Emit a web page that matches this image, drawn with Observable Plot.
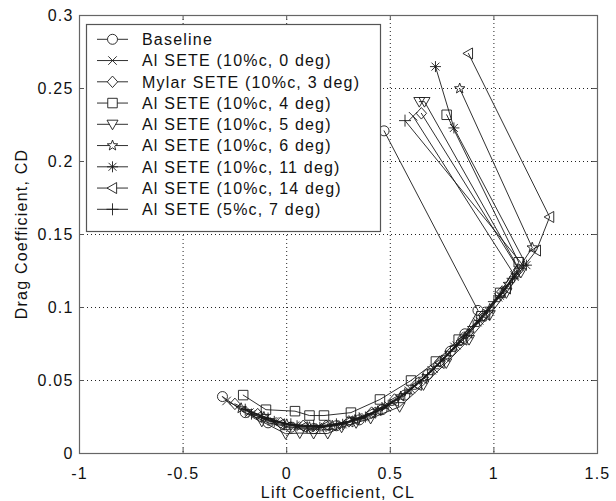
<!DOCTYPE html>
<html>
<head>
<meta charset="utf-8">
<script src="https://cdn.jsdelivr.net/npm/d3@7"></script>
<script src="https://cdn.jsdelivr.net/npm/@observablehq/plot@0.6"></script>
<style>
  html, body { margin: 0; padding: 0; background: #fff; }
  #chart { width: 616px; height: 501px; }
</style>
</head>
<body>
<div id="chart"></div>
<script>
// ---- tick values and labels ----
const xTicks = [-1, -0.5, 0, 0.5, 1, 1.5];
const xTickLabels = ["-1", "-0.5", "0", "0.5", "1", "1.5"];
const yTicks = [0, 0.05, 0.1, 0.15, 0.2, 0.25, 0.3];
const yTickLabels = ["0", "0.05", "0.1", "0.15", "0.2", "0.25", "0.3"];
const xTitle = "Lift Coefficient, CL";
const yTitle = "Drag Coefficient, CD";

// ---- series names ----
const seriesNames = [
  "Baseline",
  "Al SETE (10%c, 0 deg)",
  "Mylar SETE (10%c, 3 deg)",
  "Al SETE (10%c, 4 deg)",
  "Al SETE (10%c, 5 deg)",
  "Al SETE (10%c, 6 deg)",
  "Al SETE (10%c, 11 deg)",
  "Al SETE (10%c, 14 deg)",
  "Al SETE (5%c, 7 deg)"
];

// ---- data (CL, CD) ----
const clBaseline = [-0.31, -0.2, -0.09, 0.02, 0.13, 0.24, 0.35, 0.46, 0.57, 0.68, 0.79, 0.86, 0.923, 0.47];
const cdBaseline = [0.039, 0.028, 0.021, 0.018, 0.017, 0.019, 0.023, 0.030, 0.040, 0.054, 0.070, 0.082, 0.098, 0.221];

const clAl0 = [-0.29, -0.18, -0.07, 0.04, 0.15, 0.26, 0.37, 0.48, 0.59, 0.70, 0.81, 0.92, 1.02, 1.10, 0.61];
const cdAl0 = [0.036, 0.028, 0.022, 0.019, 0.018, 0.020, 0.025, 0.032, 0.043, 0.057, 0.073, 0.090, 0.107, 0.122, 0.231];

const clMylar3 = [-0.25, -0.14, -0.03, 0.08, 0.19, 0.30, 0.41, 0.52, 0.63, 0.74, 0.85, 0.95, 1.04, 1.12, 0.65];
const cdMylar3 = [0.034, 0.027, 0.021, 0.019, 0.019, 0.022, 0.028, 0.037, 0.048, 0.063, 0.079, 0.095, 0.111, 0.126, 0.233];

const clAl4 = [-0.21, -0.10, 0.04, 0.11, 0.18, 0.31, 0.45, 0.60, 0.72, 0.83, 0.94, 1.03, 1.12, 0.772];
const cdAl4 = [0.040, 0.030, 0.029, 0.026, 0.026, 0.028, 0.037, 0.050, 0.063, 0.078, 0.094, 0.110, 0.131, 0.232];

const clAl5 = [-0.12, -0.005, 0.063, 0.13, 0.198, 0.265, 0.335, 0.405, 0.545, 0.66, 0.77, 0.88, 0.98, 1.06, 1.13, 0.665, 0.64];
const cdAl5 = [0.022, 0.0135, 0.014, 0.0137, 0.0137, 0.018, 0.021, 0.024, 0.032, 0.047, 0.062, 0.078, 0.095, 0.110, 0.124, 0.241, 0.241];

const clAl6 = [-0.22, -0.11, 0.0, 0.11, 0.22, 0.33, 0.44, 0.55, 0.66, 0.77, 0.88, 0.98, 1.07, 1.185, 0.835];
const cdAl6 = [0.031, 0.025, 0.020, 0.018, 0.019, 0.023, 0.029, 0.039, 0.051, 0.066, 0.082, 0.099, 0.116, 0.141, 0.250];

const clAl11 = [-0.17, -0.06, 0.05, 0.16, 0.27, 0.38, 0.49, 0.60, 0.71, 0.82, 0.93, 1.03, 1.10, 1.157, 0.807, 0.718];
const cdAl11 = [0.027, 0.022, 0.019, 0.018, 0.020, 0.025, 0.033, 0.044, 0.058, 0.074, 0.091, 0.108, 0.121, 0.129, 0.223, 0.265];

const clAl14 = [-0.14, -0.03, 0.08, 0.19, 0.30, 0.41, 0.52, 0.63, 0.74, 0.85, 0.96, 1.06, 1.205, 1.269, 0.877];
const cdAl14 = [0.025, 0.020, 0.018, 0.019, 0.022, 0.028, 0.036, 0.047, 0.062, 0.078, 0.095, 0.113, 0.139, 0.162, 0.274];

const clAl5c7 = [-0.20, -0.09, 0.02, 0.13, 0.24, 0.35, 0.46, 0.57, 0.68, 0.79, 0.90, 1.00, 1.09, 1.14, 0.571];
const cdAl5c7 = [0.030, 0.024, 0.020, 0.019, 0.020, 0.024, 0.031, 0.041, 0.054, 0.070, 0.087, 0.104, 0.120, 0.129, 0.228];

// ---- marker shapes (hollow, MATLAB style) ----
function rad(size) { return Math.sqrt(size / Math.PI); }
const symCircle = { draw(c, s) { const r = rad(s); c.moveTo(r, 0); c.arc(0, 0, r, 0, 2 * Math.PI); } };
const symTimes = { draw(c, s) { const r = rad(s) * 0.85; c.moveTo(-r, -r); c.lineTo(r, r); c.moveTo(-r, r); c.lineTo(r, -r); } };
const symDiamond = { draw(c, s) { const r = rad(s) * 1.15; c.moveTo(0, -r); c.lineTo(r * 0.9, 0); c.lineTo(0, r); c.lineTo(-r * 0.9, 0); c.closePath(); } };
const symSquare = { draw(c, s) { const r = rad(s) * 0.95; c.moveTo(-r, -r); c.lineTo(r, -r); c.lineTo(r, r); c.lineTo(-r, r); c.closePath(); } };
const symTriDown = { draw(c, s) { const r = rad(s) * 1.1; c.moveTo(-r, -r * 0.75); c.lineTo(r, -r * 0.75); c.lineTo(0, r); c.closePath(); } };
const symStar = { draw(c, s) {
  const R = rad(s) * 1.1, ri = R * 0.42;
  for (let i = 0; i < 10; i++) {
    const a = -Math.PI / 2 + i * Math.PI / 5, rr = i % 2 ? ri : R;
    const x = rr * Math.cos(a), y = rr * Math.sin(a);
    if (i === 0) c.moveTo(x, y); else c.lineTo(x, y);
  }
  c.closePath();
} };
const symAsterisk = { draw(c, s) {
  const r = rad(s) * 1.1, d = r * 0.72;
  c.moveTo(-r, 0); c.lineTo(r, 0); c.moveTo(0, -r); c.lineTo(0, r);
  c.moveTo(-d, -d); c.lineTo(d, d); c.moveTo(-d, d); c.lineTo(d, -d);
} };
const symTriLeft = { draw(c, s) { const r = rad(s) * 1.1; c.moveTo(-r, 0); c.lineTo(r * 0.75, -r); c.lineTo(r * 0.75, r); c.closePath(); } };
const symPlus = { draw(c, s) { const r = rad(s) * 1.2; c.moveTo(-r, 0); c.lineTo(r, 0); c.moveTo(0, -r); c.lineTo(0, r); } };

const series = [
  { cl: clBaseline, cd: cdBaseline, sym: symCircle },
  { cl: clAl0, cd: cdAl0, sym: symTimes },
  { cl: clMylar3, cd: cdMylar3, sym: symDiamond },
  { cl: clAl4, cd: cdAl4, sym: symSquare },
  { cl: clAl5, cd: cdAl5, sym: symTriDown },
  { cl: clAl6, cd: cdAl6, sym: symStar },
  { cl: clAl11, cd: cdAl11, sym: symAsterisk },
  { cl: clAl14, cd: cdAl14, sym: symTriLeft },
  { cl: clAl5c7, cd: cdAl5c7, sym: symPlus }
].map((s, k) => ({ ...s, name: seriesNames[k] }));

const rows = series.flatMap((s) => s.cl.map((x, i) => ({ x, y: s.cd[i], name: s.name })));

const gridX = xTicks.filter((d) => d > -1 && d < 1.5);
const gridY = yTicks.filter((d) => d > 0 && d < 0.3);

const FONT = "'Liberation Sans', Arial, Helvetica, sans-serif";
const R = 5;
const INK = "#1a1a1a";

const chart = Plot.plot({
  width: 616,
  height: 501,
  marginLeft: 79,
  marginRight: 19,
  marginTop: 15,
  marginBottom: 48,
  style: { fontFamily: FONT, fontSize: "16px", letterSpacing: "1.2px", color: "#111", background: "#fff", overflow: "visible" },
  x: { domain: [-1, 1.5] },
  y: { domain: [0, 0.3] },
  marks: [
    // dotted grid
    Plot.ruleX(gridX, { x: (d) => d, stroke: "#222", strokeWidth: 1, strokeDasharray: "1,3" }),
    Plot.ruleY(gridY, { y: (d) => d, stroke: "#222", strokeWidth: 1, strokeDasharray: "1,3" }),
    // inward ticks on all four sides
    Plot.ruleX(xTicks, { x: (d) => d, insetTop: 433, stroke: "#555" }),
    Plot.ruleX(xTicks, { x: (d) => d, insetBottom: 433, stroke: "#555" }),
    Plot.ruleY(yTicks, { y: (d) => d, insetRight: 513, stroke: "#555" }),
    Plot.ruleY(yTicks, { y: (d) => d, insetLeft: 513, stroke: "#555" }),
    // series lines
    Plot.line(rows, { x: "x", y: "y", z: "name", stroke: INK, strokeWidth: 0.9 }),
    // series markers
    ...series.map((s) =>
      Plot.dot(rows.filter((d) => d.name === s.name), { x: "x", y: "y", r: R, symbol: s.sym, stroke: INK, strokeWidth: 0.9, fill: "none" })
    ),
    Plot.frame({ stroke: "#666", strokeWidth: 1.2 }),
    Plot.axisX({
      ticks: xTicks, tickSize: 0, tickPadding: 14,
      tickFormat: (d) => xTickLabels[xTicks.indexOf(d)],
      label: null
    }),
    Plot.axisY({
      ticks: yTicks, tickSize: 0, tickPadding: 6,
      tickFormat: (d) => yTickLabels[yTicks.indexOf(d)],
      label: null
    })
  ]
});

document.getElementById("chart").appendChild(chart);

const svg = d3.select(chart);

// ---- axis titles ----
svg.append("text").attr("x", 338).attr("y", 497.5).attr("text-anchor", "middle")
  .attr("font-family", FONT).attr("font-size", 16).attr("fill", "#111").text(xTitle);
svg.append("text").attr("transform", "translate(27,234) rotate(-90)").attr("text-anchor", "middle")
  .attr("font-family", FONT).attr("font-size", 16).attr("fill", "#111").text(yTitle);

// ---- legend box (inside the plot, upper left) ----
const lg = svg.append("g").attr("class", "legend");
const LX = 86.5, LY = 24.5, LW = 294, LH = 207;
lg.append("rect").attr("x", LX).attr("y", LY).attr("width", LW).attr("height", LH)
  .attr("fill", "#fff").attr("stroke", "#555").attr("stroke-width", 1.2);
series.forEach((s, i) => {
  const y = 39.3 + i * 21.25;
  lg.append("line").attr("x1", 97).attr("x2", 128).attr("y1", y).attr("y2", y)
    .attr("stroke", INK).attr("stroke-width", 0.9);
  const p = d3.path();
  s.sym.draw(p, Math.PI * R * R);
  lg.append("path").attr("d", p.toString()).attr("transform", `translate(112.5,${y})`)
    .attr("fill", "#fff").attr("stroke", INK).attr("stroke-width", 0.9);
  lg.append("text").attr("x", 142).attr("y", y).attr("dy", "0.36em").attr("text-anchor", "start")
    .attr("font-family", FONT).attr("font-size", 16).attr("fill", "#111")
    .text(s.name);
});
</script>
</body>
</html>
